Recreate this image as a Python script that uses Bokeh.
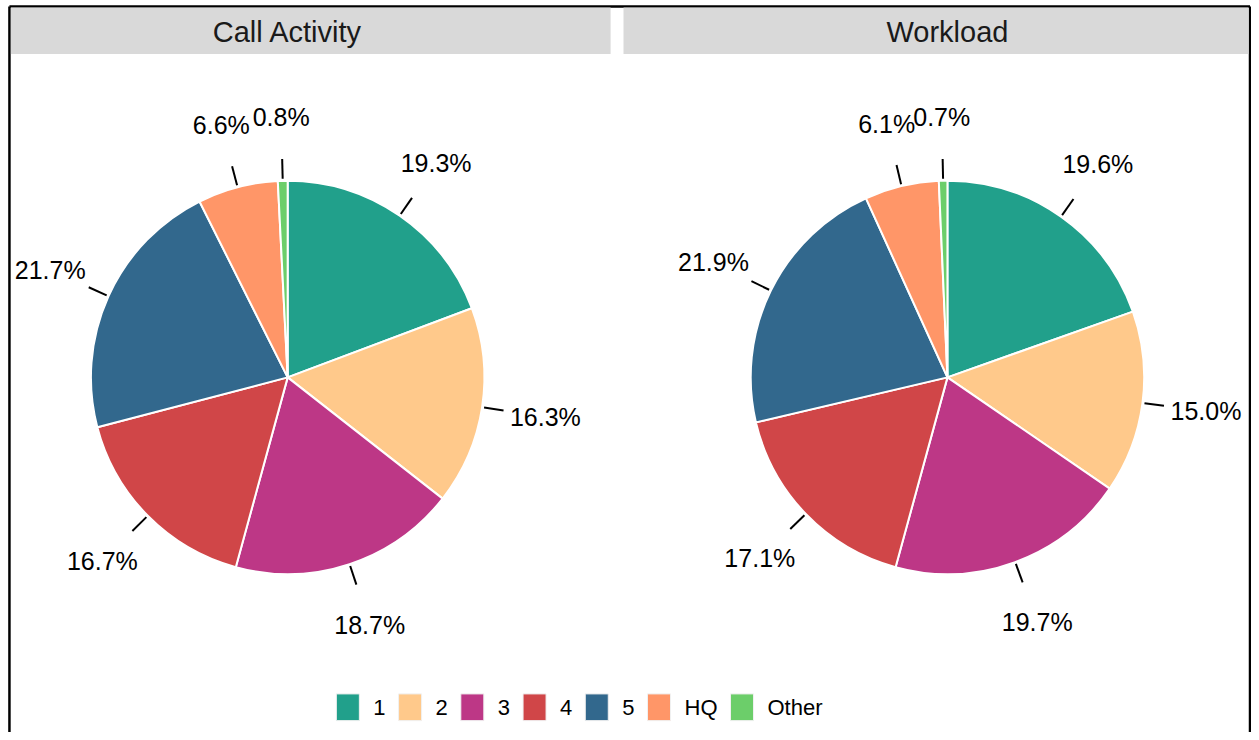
import numpy as np
from bokeh.plotting import figure
from bokeh.models import ColumnDataSource, Range1d
from bokeh.core.properties import value
from bokeh.embed import file_html
from bokeh.resources import INLINE

# ---- data ----
categories = ["1", "2", "3", "4", "5", "HQ", "Other"]
colors = ["#21A08B", "#FFC98B", "#BD3786", "#D04648", "#32688D", "#FF9668", "#6CCE6A"]
panels = ["Call Activity", "Workload"]
call_activity = [19.3, 16.3, 18.7, 16.7, 21.7, 6.6, 0.8]
workload = [19.6, 15.0, 19.7, 17.1, 21.9, 6.1, 0.7]
series = [call_activity, workload]

# ---- layout ----
W, H = 1251, 732
SX, SY = W / 1259, H / 740


def X(v):
    return v * SX


def Y(v):
    return H - v * SY


FONT = "Liberation Sans"
R = 198 * SX
centers_x = [X(289), X(953)]
center_y = Y(381)

p = figure(width=W, height=H, x_range=Range1d(0, W), y_range=Range1d(0, H),
           output_backend="svg", toolbar_location=None, min_border=0)
p.axis.visible = False
p.grid.visible = False
p.outline_line_color = None
p.background_fill_color = "white"
p.border_fill_color = "white"

# border (left, top, right)
bl, bt, br = X(9), Y(6), X(1257.5)
p.segment(x0=[bl, bl, br], y0=[0, bt, bt], x1=[bl, br, br], y1=[bt, bt, 0],
          line_color="black", line_width=2.5)

# strips
p.quad(left=[X(10.5), X(627)], right=[X(614), X(1256)], top=[Y(7), Y(7)],
       bottom=[Y(54), Y(54)], fill_color="#D9D9D9", line_color=None)
p.text(x=centers_x, y=[Y(32), Y(32)], text=panels, text_align="center",
       text_baseline="middle", text_font=value(FONT), text_font_size="29px",
       text_color="#1A1A1A")

for cx, vals in zip(centers_x, series):
    v = np.array(vals, dtype=float)
    frac = v / v.sum()
    cum_end = np.cumsum(frac)
    cum_start = cum_end - frac
    mid = (cum_start + cum_end) / 2
    start = np.pi / 2 - 2 * np.pi * cum_start
    end = np.pi / 2 - 2 * np.pi * cum_end
    src = ColumnDataSource(dict(x=[cx] * len(v), y=[center_y] * len(v),
                                start=start, end=end, color=colors, cat=categories))
    p.wedge(x="x", y="y", radius=R, start_angle="start", end_angle="end",
            direction="clock", fill_color="color", line_color="white",
            line_width=2, source=src)
    ang = np.pi / 2 - 2 * np.pi * mid
    p.segment(x0=cx + R * 1.01 * np.cos(ang), y0=center_y + R * 1.01 * np.sin(ang),
              x1=cx + R * 1.11 * np.cos(ang), y1=center_y + R * 1.11 * np.sin(ang),
              line_color="black", line_width=2)
    labels = [f"{x:.1f}%" for x in vals]
    p.text(x=cx + R * 1.325 * np.cos(ang), y=center_y + R * 1.325 * np.sin(ang),
           text=labels, text_align="center", text_baseline="middle",
           text_font=value(FONT), text_font_size="25px", text_color="black")

# ---- legend (drawn as swatches + labels) ----
LEG_FS = 22
char_w = {"H": 0.722, "Q": 0.778, "O": 0.778, "t": 0.278, "h": 0.556,
          "e": 0.556, "r": 0.333}
sw_w, sw_h, gap_in, gap_out = 23, 27 * SY, 14, 13
lx, lefts, label_x = X(338), [], []
for c in categories:
    lefts.append(lx)
    label_x.append(lx + sw_w + gap_in)
    tw = sum(char_w.get(ch, 0.556) for ch in c) * LEG_FS
    lx += sw_w + gap_in + tw + gap_out
sw_bottom, sw_top = Y(728), Y(701)
p.quad(left=lefts, right=[l + sw_w for l in lefts], top=[sw_top] * len(lefts),
       bottom=[sw_bottom] * len(lefts), fill_color=colors, line_color="#F0F0F0",
       line_width=1)
p.text(x=label_x, y=[(sw_top + sw_bottom) / 2] * len(lefts), text=categories,
       text_align="left", text_baseline="middle", text_font=value(FONT),
       text_font_size=f"{LEG_FS}px", text_color="black")

open("out.html", "w").write(file_html(p, INLINE))
